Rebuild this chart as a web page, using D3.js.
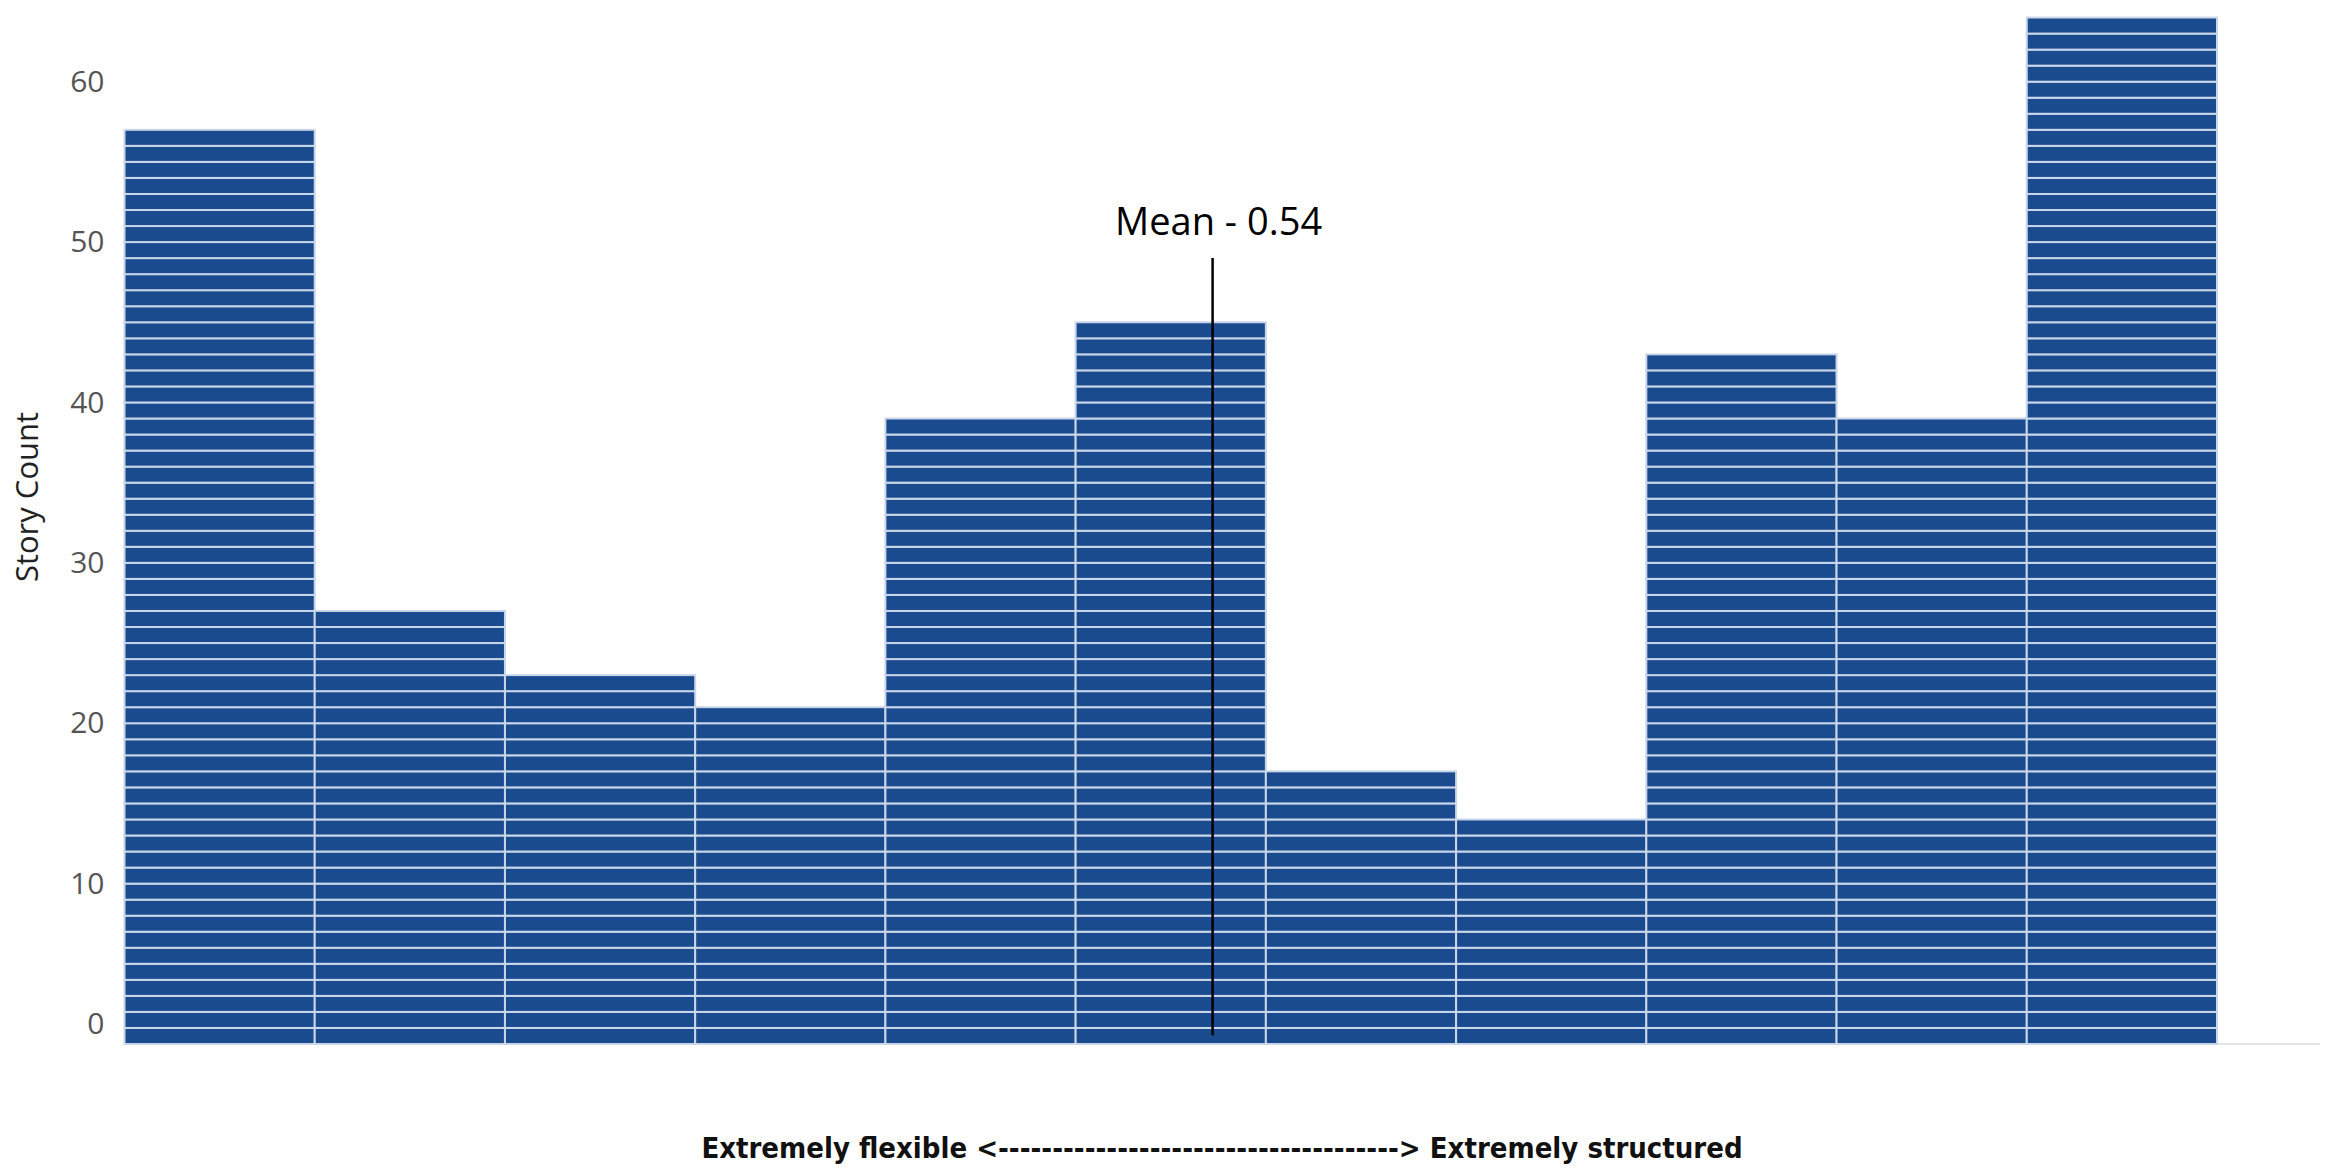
<!DOCTYPE html>
<html>
<head>
<meta charset="utf-8">
<script src="https://cdn.jsdelivr.net/npm/d3@7"></script>
<style>
  body { margin: 0; background: #fff; }
  svg { display: block; }
</style>
</head>
<body>
<svg id="chart"></svg>
<script>
// one bar per bin, each story drawn as its own cell
const storyCounts = [57, 27, 23, 21, 39, 45, 17, 14, 43, 39, 64]
const yTicks = [0, 10, 20, 30, 40, 50, 60]
const meanText = "Mean - 0.54"
const meanBinPos = 5.72 // where the mean line sits, in bin units
const xTitle = "Extremely flexible <-------------------------------------> Extremely structured"
const yTitle = "Story Count"

const width = 2325, height = 1169

let svg = d3.select("#chart")
    .attr("width", width).attr("height", height)

let scale_x = d3.scaleLinear()
    .domain([0, storyCounts.length])
    .range([124.5, 2217])

let scale_y = d3.scaleLinear()
    .domain([0, 65])
    .range([1044, 1.5])

// faint zero line
svg.append("line")
    .attr("x1", scale_x(0)).attr("x2", 2320)
    .attr("y1", scale_y(0)).attr("y2", scale_y(0))
    .attr("stroke", "#e4e4e4").attr("stroke-width", 2)

let cells = []
storyCounts.forEach((c, i) => {
    for (let k = 0; k < c; k++) cells.push({bin: i, k: k})
})

svg.append("g").selectAll("rect")
    .data(cells)
    .join("rect")
    .attr("x", d => scale_x(d.bin))
    .attr("y", d => scale_y(d.k + 1))
    .attr("width", d => scale_x(d.bin + 1) - scale_x(d.bin))
    .attr("height", d => scale_y(d.k) - scale_y(d.k + 1))
    .attr("fill", "#1a4b8e")
    .attr("stroke", "#c9d6ea")
    .attr("stroke-width", 2)

// y axis
let yAxis = svg.append("g")
    .attr("transform", "translate(" + scale_x(0) + ",0)")
    .call(d3.axisLeft(scale_y).tickValues(yTicks).tickSize(0).tickPadding(20))
yAxis.select(".domain").remove()
yAxis.selectAll("text")
    .attr("font-family", "Open Sans, sans-serif")
    .attr("font-size", 30)
    .attr("fill", "#555")
// tableau pushes the bottom label up inside the pane
yAxis.selectAll(".tick").filter(d => d === 0).select("text").attr("dy", "-0.35em")

svg.append("text")
    .attr("transform", "translate(38,497) rotate(-90)")
    .attr("text-anchor", "middle")
    .attr("font-family", "Open Sans, sans-serif")
    .attr("font-size", 31)
    .attr("fill", "#222")
    .text(yTitle)

// mean marker
svg.append("line")
    .attr("x1", scale_x(meanBinPos)).attr("x2", scale_x(meanBinPos))
    .attr("y1", scale_y(49)).attr("y2", scale_y(0.55))
    .attr("stroke", "#000").attr("stroke-width", 2.5)

svg.append("text")
    .attr("x", scale_x(meanBinPos) + 6)
    .attr("y", scale_y(49) - 23)
    .attr("text-anchor", "middle")
    .attr("font-family", "Open Sans, sans-serif")
    .attr("font-size", 38)
    .attr("fill", "#000")
    .text(meanText)

svg.append("text")
    .attr("x", 1222)
    .attr("y", 1158)
    .attr("text-anchor", "middle")
    .attr("font-family", "DejaVu Sans Condensed, DejaVu Sans, sans-serif")
    .attr("font-weight", "bold")
    .attr("font-size", 29)
    .attr("fill", "#111")
    .text(xTitle)
</script>
</body>
</html>
